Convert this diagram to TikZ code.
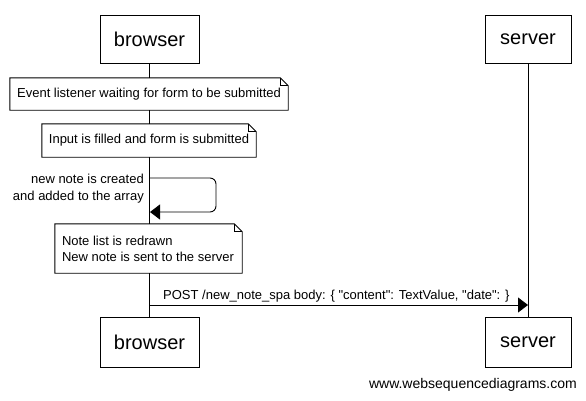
\documentclass[tikz,border=0pt]{standalone}
\usepackage{fontspec}
\newfontfamily\arialfont{Liberation Sans}
\usetikzlibrary{arrows.meta}
\newcommand\notefold[1]{%
  \draw[line] (#1.south west) -- (#1.north west) -- ([xshift=-8pt]#1.north east)
    -- ([yshift=-8pt]#1.north east) -- (#1.south east) -- cycle;
  \draw[line] ([xshift=-8pt]#1.north east) |- ([yshift=-8pt]#1.north east);}
\begin{document}
\begin{tikzpicture}[x=1pt,y=-1pt,
  line/.style={line width=0.9pt},
  actor/.style={draw,line width=0.9pt,fill=white,inner sep=0pt,font=\arialfont\fontsize{20}{24}\selectfont},
  notebox/.style={fill=white,inner sep=0pt,font=\arialfont\fontsize{13}{16}\selectfont},
  lbl/.style={inner sep=0pt,font=\arialfont\fontsize{13}{16.5}\selectfont},
  tip/.style={-{Triangle[length=10pt,width=15pt]}}]
\useasboundingbox (0,0) rectangle (586,400);
\node[actor,minimum width=99pt,minimum height=48pt] (bt) at (149.5,39) {browser};
\node[actor,minimum width=86pt,minimum height=48pt] (st) at (528,39) {server};
\node[actor,minimum width=99pt,minimum height=50pt] (bb) at (149.5,342) {browser};
\node[actor,minimum width=86pt,minimum height=50pt] (sb) at (528,342) {server};
\draw[line] (bt) -- (bb);
\draw[line] (st) -- (sb);
\node[notebox,minimum width=278pt,minimum height=32pt] (n1) at (149,94) {Event listener waiting for form to be submitted};
\notefold{n1}
\node[notebox,minimum width=214pt,minimum height=33pt] (n2) at (149,140.5) {Input is filled and form is submitted};
\notefold{n2}
\coordinate (s1) at (150,178);
\coordinate (s2) at (150,212);
\draw[line,rounded corners=6pt,tip] (s1) -- (216,178) -- (216,212) -- (s2);
\node[lbl,anchor=east,align=right] (sl) at (144,188.5) {new note is created\\and added to the array};
\node[notebox,minimum width=187pt,minimum height=49pt] (n3) at (148.5,248.5) {};
\notefold{n3}
\node[lbl,anchor=west,align=left,font=\arialfont\fontsize{13}{16}\selectfont] (n3t) at ([xshift=7pt]n3.west) {Note list is redrawn\\New note is sent to the server};
\coordinate (m1) at (150,305);
\coordinate (m2) at (528,305);
\draw[line,tip] (m1) -- (m2);
\node[lbl,anchor=base west] (ml) at (163,299) {POST /new\_note\_spa body: \{ "content": TextValue, "date": \}};
\node[inner sep=0pt,anchor=east,font=\arialfont\fontsize{14}{16}\selectfont] (wm) at (577,385) {www.websequencediagrams.com};
\end{tikzpicture}
\end{document}
